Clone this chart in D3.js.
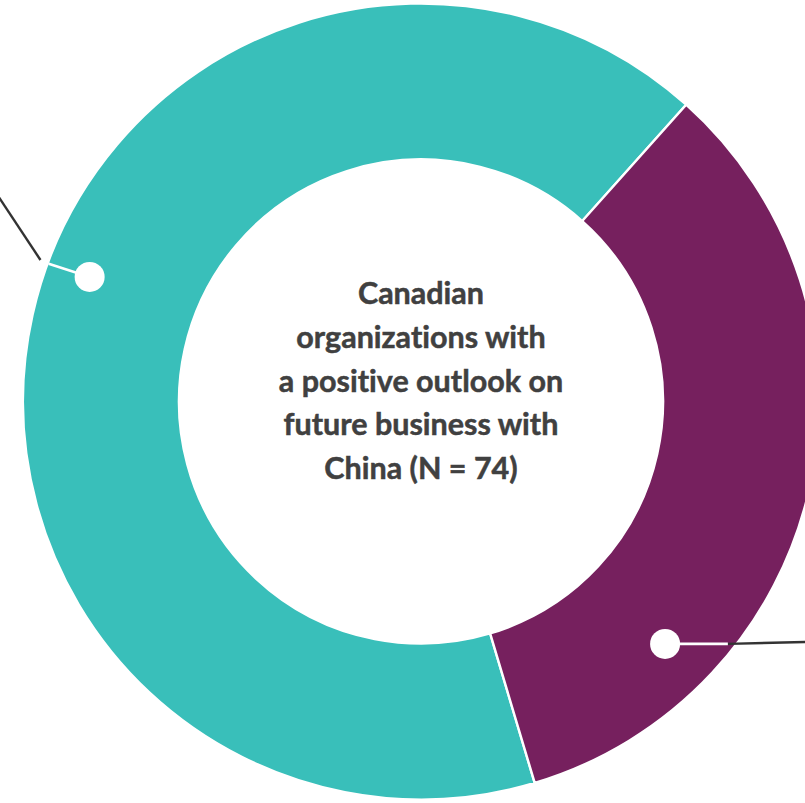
<!DOCTYPE html>
<html>
<head>
<meta charset="utf-8">
<script src="https://cdn.jsdelivr.net/npm/d3@7"></script>
<style>
  html, body { margin: 0; padding: 0; background: #ffffff; overflow: hidden; }
  svg { display: block; }
</style>
</head>
<body>
<svg id="chart" width="805" height="803"></svg>
<script>
// Survey split of organizations (N = 74)
const categories = ["Positive outlook, group A", "Positive outlook, group B"];
const counts = [49, 25];
const colors = ["#39BFBA", "#76205E"];
const centerLines = [
  "Canadian",
  "organizations with",
  "a positive outlook on",
  "future business with",
  "China (N = 74)"
];

// Callout leaders, in degrees clockwise from 12 o'clock and radius in px
const callouts = [
  { dot: [290.6, 354], edge: [290.3, 397], lead: [[290.4, 406], [295.9, 470]] },
  { dot: [134.8, 344], edge: [128.3, 391], lead: [[128.3, 391], [121.1, 465]] }
];

const W = 805, H = 803;
const cx = 421, cy = 401.5;
const outerR = 398, innerR = 242;
const startDeg = 163.4;

const svg = d3.select("#chart");
const g = svg.append("g").attr("transform", `translate(${cx},${cy})`);

const rad = d => d * Math.PI / 180;
const polar = ([a, r]) => [r * Math.sin(rad(a)), -r * Math.cos(rad(a))];

const pie = d3.pie().sort(null)
  .startAngle(rad(startDeg))
  .endAngle(rad(startDeg) + 2 * Math.PI);

const arc = d3.arc().innerRadius(innerR).outerRadius(outerR);

g.selectAll("path.slice")
  .data(pie(counts))
  .join("path")
  .attr("class", "slice")
  .attr("d", arc)
  .attr("fill", (d, i) => colors[i])
  .attr("stroke", "#ffffff")
  .attr("stroke-width", 2.4)
  .attr("stroke-linejoin", "miter");

// Leader lines: dark outer segment, white inner segment, white dot
const line = d3.line();
callouts.forEach(c => {
  g.append("path")
    .attr("d", line(c.lead.map(polar)))
    .attr("fill", "none")
    .attr("stroke", "#333333")
    .attr("stroke-width", 2.4);
  g.append("path")
    .attr("d", line([c.dot, c.edge].map(polar)))
    .attr("fill", "none")
    .attr("stroke", "#ffffff")
    .attr("stroke-width", 2.6);
  const p = polar(c.dot);
  g.append("circle")
    .attr("cx", p[0]).attr("cy", p[1])
    .attr("r", 15)
    .attr("fill", "#ffffff");
});

// Centre label
const lineGap = 43.75;
const firstBaseline = 304 - cy;
g.append("text")
  .attr("text-anchor", "middle")
  .attr("font-family", "Lato, 'Open Sans', sans-serif")
  .attr("font-weight", 700)
  .attr("font-size", 30.5)
  .attr("fill", "#404040")
  .style("font-variant-ligatures", "none")
  .style("font-kerning", "normal")
  .attr("stroke", "#404040")
  .attr("stroke-width", 0.5)
  .selectAll("tspan")
  .data(centerLines)
  .join("tspan")
  .attr("x", 0)
  .attr("y", (d, i) => firstBaseline + i * lineGap)
  .text(d => d);
</script>
</body>
</html>
